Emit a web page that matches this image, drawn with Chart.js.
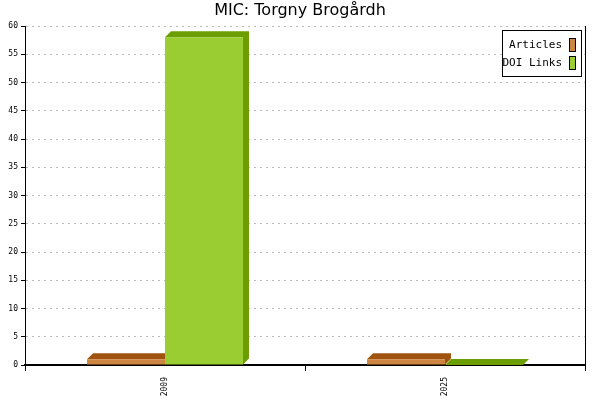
<!DOCTYPE html>
<html><head><meta charset="utf-8">
<script src="https://cdn.jsdelivr.net/npm/chart.js@4.4.0/dist/chart.umd.min.js"></script>
<style>html,body{margin:0;padding:0;background:#fff}#w{width:600px;height:400px}</style>
</head><body><div id="w"><canvas id="c"></canvas></div>
<script>
const titleText = "MIC: Torgny Brogårdh";
const categories = ["2009", "2025"];
const articles = [1, 1];
const doiLinks = [58, 0];
const yTicks = [0,5,10,15,20,25,30,35,40,45,50,55,60];

const faces = ["#CD853F", "#9ACD32"];
const darks = ["#A0520F", "#6B9E00"];
const D = 6;
const mono = "'DejaVu Sans Mono', monospace";

const plugin3d = {
  id: 'p3d',
  beforeDatasetsDraw(chart) {
    const ctx = chart.ctx;
    chart.data.datasets.forEach((ds, di) => {
      chart.getDatasetMeta(di).data.forEach(bar => {
        const l = bar.x - bar.width/2, r = bar.x + bar.width/2, t = bar.y, b = bar.base;
        ctx.fillStyle = darks[di];
        ctx.beginPath();
        ctx.moveTo(l, t); ctx.lineTo(l+D, t-D); ctx.lineTo(r+D, t-D); ctx.lineTo(r+D, b-D); ctx.lineTo(r, b); ctx.lineTo(r, t);
        ctx.closePath(); ctx.fill();
      });
    });
  },
  afterDraw(chart) {
    const ctx = chart.ctx, a = chart.chartArea;
    ctx.save();
    ctx.strokeStyle = '#000'; ctx.lineWidth = 1;
    ctx.beginPath(); ctx.moveTo(a.right+0.5, a.top); ctx.lineTo(a.right+0.5, a.bottom); ctx.stroke();
    ctx.fillStyle = '#000'; ctx.font = "16px 'DejaVu Sans', sans-serif"; ctx.textAlign = 'center'; ctx.textBaseline = 'middle';
    ctx.fillText(titleText, 300, 11);
    // legend
    const lx = 502, ly = 30, lw = 79, lh = 46;
    ctx.fillStyle = '#fff'; ctx.fillRect(lx, ly, lw, lh);
    ctx.strokeRect(lx+0.5, ly+0.5, lw, lh);
    ctx.font = "11px " + mono; ctx.textAlign = 'right';
    chart.data.datasets.forEach((ds, i) => {
      const y = ly + 15 + i*18;
      ctx.fillStyle = '#000'; ctx.fillText(ds.label, lx + 60, y);
      ctx.fillStyle = faces[i]; ctx.fillRect(lx + 67, y - 7, 7, 14);
      ctx.strokeRect(lx + 67.5, y - 6.5, 6, 13);
    });
    ctx.restore();
  }
};

new Chart(document.getElementById('c'), {
  type: 'bar',
  data: {
    labels: categories,
    datasets: [
      { label: 'Articles', data: articles, backgroundColor: faces[0] },
      { label: 'DOI Links', data: doiLinks, backgroundColor: faces[1] }
    ]
  },
  options: {
    responsive: true, maintainAspectRatio: false, animation: false,
    layout: { padding: { top: 26, right: 15, left: 0, bottom: 0 } },
    plugins: { legend: { display: false }, title: { display: false }, tooltip: { enabled: false } },
    datasets: { bar: { categoryPercentage: 0.557, barPercentage: 1.0 } },
    scales: {
      x: {
        afterFit(s) { s.height = 35; },
        grid: { offset: true, drawOnChartArea: false, color: '#000', tickLength: 6 },
        border: { color: '#000', width: 2 },
        ticks: { maxRotation: 90, minRotation: 90, color: '#000', font: { family: mono, size: 8 }, padding: 6 }
      },
      y: {
        min: 0, max: 60,
        afterFit(s) { s.width = 25; },
        afterBuildTicks(s) { s.ticks = yTicks.map(v => ({ value: v })); },
        grid: { color: '#bbb', tickLength: 4, tickColor: '#000' },
        border: { color: '#000', width: 1, dash: [2, 4] },
        ticks: { color: '#000', font: { family: mono, size: 8 }, padding: 3 }
      }
    }
  },
  plugins: [plugin3d]
});
</script></body></html>
